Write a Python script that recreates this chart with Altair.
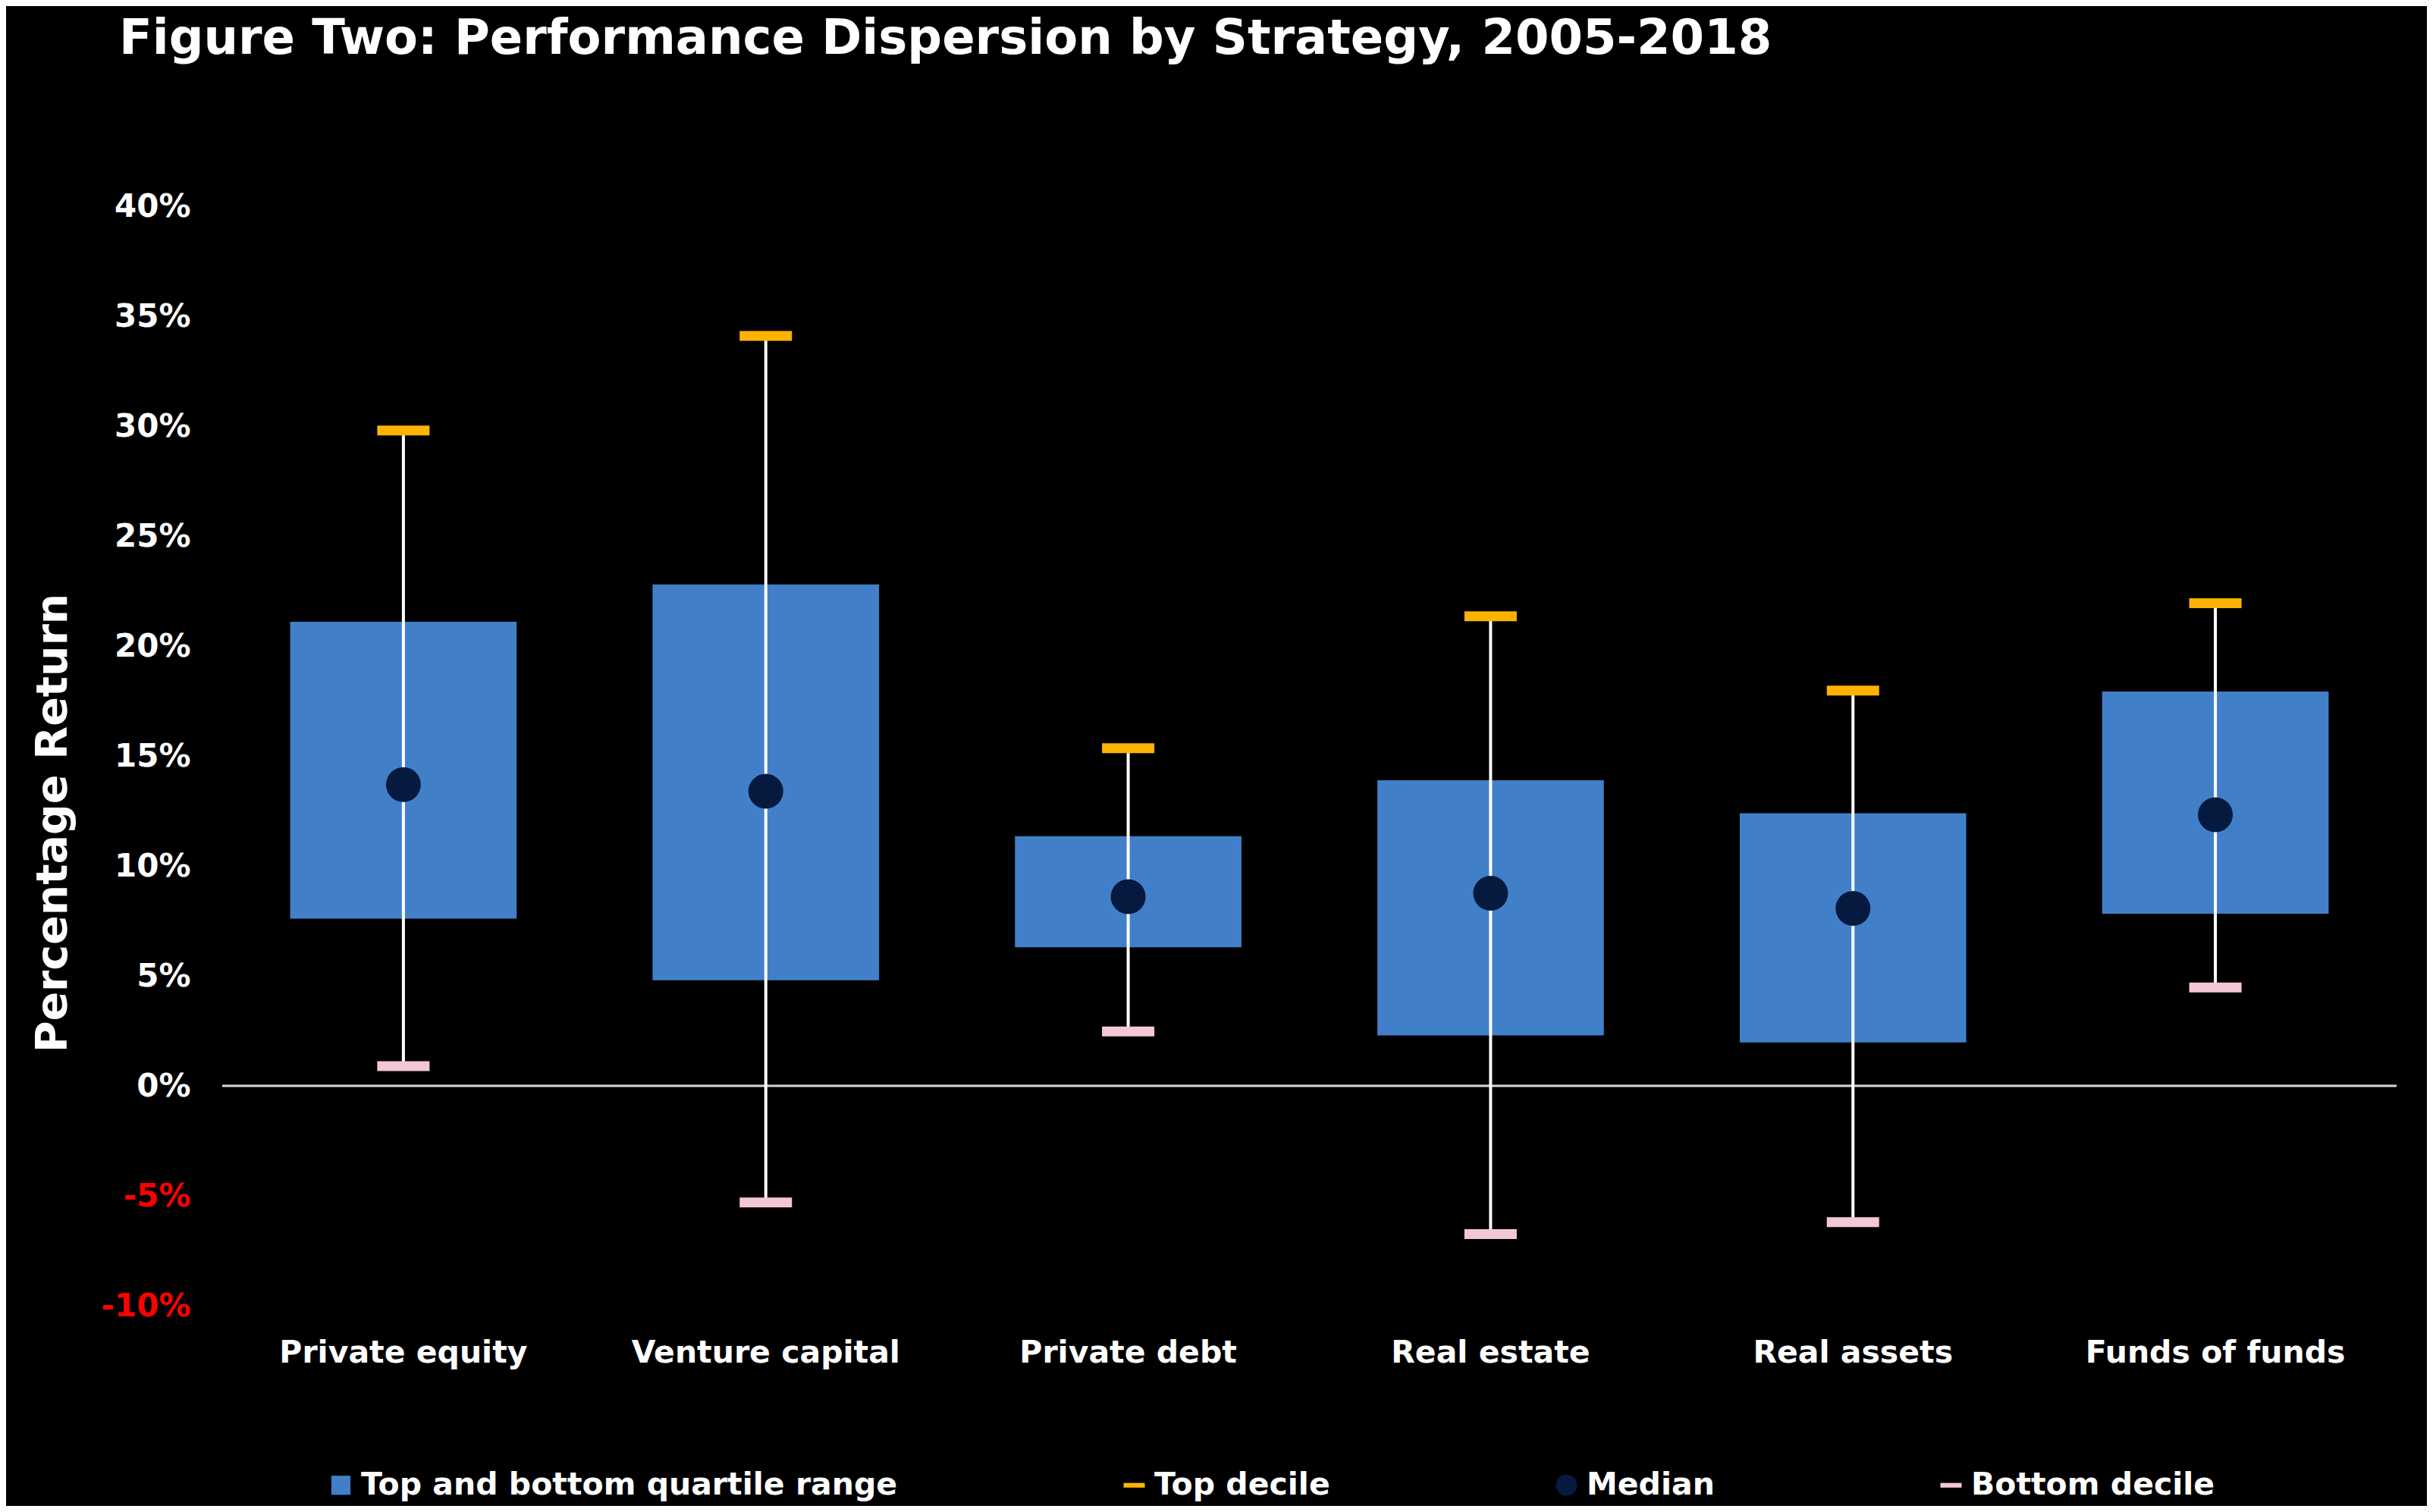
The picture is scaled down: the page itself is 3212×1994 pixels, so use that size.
import altair as alt
import pandas as pd

# ---- data (percent) ----
strategies = ["Private equity", "Venture capital", "Private debt",
              "Real estate", "Real assets", "Funds of funds"]
top_decile = [29.8, 34.1, 15.35, 21.35, 17.97, 21.95]
top_quartile = [21.1, 22.8, 11.35, 13.9, 12.4, 17.93]
median = [13.7, 13.4, 8.6, 8.76, 8.07, 12.33]
bottom_quartile = [7.6, 4.8, 6.3, 2.29, 1.97, 7.83]
bottom_decile = [0.9, -5.3, 2.47, -6.74, -6.2, 4.47]

y_ticks = [-10, -5, 0, 5, 10, 15, 20, 25, 30, 35, 40]
zero_line = [0]

legend_labels = ["Top and bottom quartile range", "Top decile", "Median", "Bottom decile"]

C_BAR = "#4180C9"
C_TOP = "#FFB300"
C_MED = "#061A40"
C_BOT = "#F4C7D4"
legend_colors = [C_BAR, C_TOP, C_MED, C_BOT]
DASH = "M-1,-0.22H1V0.22H-1Z"
legend_shapes = ["M-0.9,-0.9H0.9V0.9H-0.9Z", DASH, "circle", DASH]

FONT = "DejaVu Sans"

df = pd.DataFrame({
    "strategy": strategies,
    "top": top_decile,
    "q3": top_quartile,
    "median": median,
    "q1": bottom_quartile,
    "bottom": bottom_decile,
})
zero_df = pd.DataFrame({"v": zero_line})
legend_df = pd.DataFrame({
    "series": legend_labels,
    "strategy": [strategies[0]] * len(legend_labels),
    "median": [median[0]] * len(legend_labels),
})

# ---- scales / axes ----
xenc = alt.X(
    "strategy:N", sort=strategies,
    scale=alt.Scale(paddingInner=0.375, paddingOuter=0.1875),
    axis=alt.Axis(title=None, labelAngle=0, labelFont=FONT, labelFontSize=41,
                  labelFontWeight="bold", labelColor="white", ticks=False,
                  domain=False, grid=False, labelPadding=42, labelLimit=1000),
)
yscale = alt.Scale(domain=[-10, 40], nice=False, zero=False)
yaxis = alt.Axis(
    values=y_ticks, labelExpr="datum.value + '%'", grid=False, domain=False,
    ticks=False, labelFont=FONT, labelFontSize=42, labelFontWeight="bold",
    labelColor={"condition": {"test": "datum.value < 0", "value": "#FF0000"}, "value": "#FFFFFF"},
    labelPadding=42,
    title="Percentage Return", titleFont=FONT, titleFontSize=57,
    titleFontWeight="bold", titleColor="white", titleAngle=270,
    titleX=-206, titleY=813, titleAlign="center", titleBaseline="alphabetic",
)


def Y(field):
    return alt.Y(field, scale=yscale, axis=yaxis)


zero = alt.Chart(zero_df).mark_rule(color="#D9D9D9", strokeWidth=3).encode(y=Y("v:Q"))

bars = alt.Chart(df).mark_bar(color=C_BAR).encode(x=xenc, y=Y("q1:Q"), y2="q3:Q")

whisk = alt.Chart(df).mark_rule(color="white", strokeWidth=4).encode(
    x=xenc, y=Y("bottom:Q"), y2="top:Q")

top_cap = alt.Chart(df).mark_tick(color=C_TOP, thickness=13, size=69, opacity=1).encode(
    x=xenc, y=Y("top:Q"))
bot_cap = alt.Chart(df).mark_tick(color=C_BOT, thickness=13, size=69, opacity=1).encode(
    x=xenc, y=Y("bottom:Q"))

med = alt.Chart(df).mark_circle(color=C_MED, size=2116, opacity=1).encode(
    x=xenc, y=Y("median:Q"))

leg = alt.Legend(
    title=None, orient="none", legendX=136, legendY=1666, direction="horizontal",
    columns=4, columnPadding=291, labelFont=FONT, labelFontSize=41,
    labelFontWeight="bold", labelColor="white", symbolSize=784, symbolOpacity=1,
    symbolStrokeWidth=0, labelOffset=6, padding=0, labelLimit=2000,
)
legend_layer = alt.Chart(legend_df).mark_point(filled=True, opacity=0).encode(
    x=xenc, y=Y("median:Q"),
    color=alt.Color("series:N", sort=legend_labels,
                    scale=alt.Scale(domain=legend_labels, range=legend_colors), legend=leg),
    shape=alt.Shape("series:N", sort=legend_labels,
                    scale=alt.Scale(domain=legend_labels, range=legend_shapes), legend=leg),
)

chart = alt.layer(zero, bars, whisk, top_cap, bot_cap, med, legend_layer).properties(
    width=2867, height=1450,
    title=alt.TitleParams(
        "Figure Two: Performance Dispersion by Strategy, 2005-2018",
        anchor="start", frame="group", dx=-136, font=FONT, fontSize=64,
        fontWeight="bold", color="white", baseline="alphabetic", offset=116,
    ),
    autosize=alt.AutoSizeParams(type="none"),
    padding={"left": 285, "top": 264, "right": 40, "bottom": 264},
).configure(background="black").configure_view(stroke=None)

chart.save("out.html", embed_options={"renderer": "svg", "actions": False})
